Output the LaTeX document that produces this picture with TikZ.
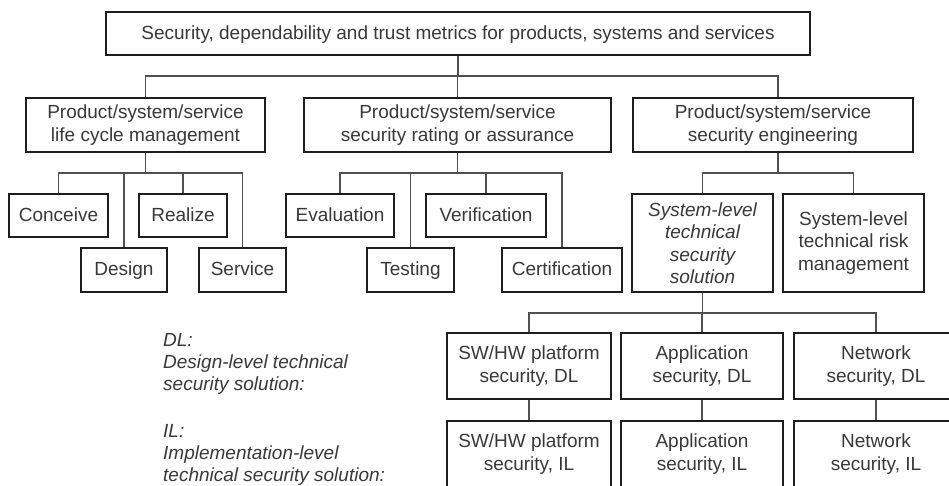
\documentclass[tikz,border=0pt]{standalone}
\usepackage{fontspec}
\setmainfont{Liberation Sans}
\definecolor{boxline}{HTML}{1E1E1E}
\definecolor{linkc}{HTML}{505050}
\definecolor{txt}{HTML}{383838}
\begin{document}
\begin{tikzpicture}[x=1pt,y=-1pt,
  box/.style={draw=boxline, line width=2pt, fill=white, text=txt, align=center,
    inner sep=0pt, font=\fontsize{19}{22.5}\selectfont},
  oneline/.style={text height=15.6pt, text depth=4pt},
  link/.style={draw=linkc, line width=1.3pt},
  legend/.style={text=txt, inner sep=0pt, anchor=base west,
    font=\fontsize{19}{22}\selectfont\itshape}]
\useasboundingbox (0,0) rectangle (949,485);

% root
\node[box, oneline, minimum width=704pt, minimum height=43pt] (top) at (458,33.5)
  {Security, dependability and trust metrics for products, systems and services};

% second level
\node[box, minimum width=239pt, minimum height=54pt] (life) at (145.5,125)
  {Product/system/service\\life cycle management};
\node[box, minimum width=307pt, minimum height=54pt] (rating) at (457.5,125)
  {Product/system/service\\security rating or assurance};
\node[box, minimum width=280pt, minimum height=54pt] (eng) at (773,125)
  {Product/system/service\\security engineering};

% life cycle phases
\node[box, oneline, minimum width=99pt, minimum height=43pt] (conceive) at (58.5,215.5) {Conceive};
\node[box, oneline, minimum width=88pt, minimum height=43pt] (realize) at (183,215.5) {Realize};
\node[box, oneline, minimum width=86pt, minimum height=44pt] (design) at (124,270) {Design};
\node[box, oneline, minimum width=87pt, minimum height=44pt] (service) at (242.5,270) {Service};

% assurance activities
\node[box, oneline, minimum width=108pt, minimum height=43pt] (eval) at (340,215.5) {Evaluation};
\node[box, oneline, minimum width=120pt, minimum height=43pt] (verif) at (486,215.5) {Verification};
\node[box, oneline, minimum width=87pt, minimum height=44pt] (testing) at (410.5,270) {Testing};
\node[box, oneline, minimum width=120pt, minimum height=44pt] (certif) at (562,270) {Certification};

% engineering
\node[box, minimum width=141pt, minimum height=98pt, font=\fontsize{19}{22.5}\selectfont\itshape]
  (syssol) at (702.5,243) {System-level\\technical\\security\\solution};
\node[box, minimum width=141pt, minimum height=98pt] (risk) at (853.5,243)
  {System-level\\technical risk\\management};

% design level
\node[box, minimum width=164pt, minimum height=66pt] (swdl) at (529,366) {SW/HW platform\\security, DL};
\node[box, minimum width=162pt, minimum height=66pt] (appdl) at (702,366) {Application\\security, DL};
\node[box, minimum width=164pt, minimum height=66pt] (netdl) at (876,366) {Network\\security, DL};

% implementation level
\node[box, minimum width=164pt, minimum height=66pt] (swil) at (529,454) {SW/HW platform\\security, IL};
\node[box, minimum width=162pt, minimum height=66pt] (appil) at (702,454) {Application\\security, IL};
\node[box, minimum width=164pt, minimum height=66pt] (netil) at (876,454) {Network\\security, IL};

% legend
\node[legend] (dlhead) at (163,346) {DL:};
\node[legend] (dlone) at (163,368) {Design-level technical};
\node[legend] (dltwo) at (163,390) {security solution:};
\node[legend] (ilhead) at (163,437) {IL:};
\node[legend] (ilone) at (163,459) {Implementation-level};
\node[legend] (iltwo) at (163,481) {technical security solution:};

% bus levels
\coordinate (busa) at (0,76);
\coordinate (busb) at (0,173);
\coordinate (busc) at (0,313);

% root to second level
\draw[link] (top.south) -- (top.south |- busa);
\draw[link] (life.north) -- (life.north |- busa) -- ([xshift=5pt]eng.north |- busa) -- ([xshift=5pt]eng.north);
\draw[link] (rating.north) -- (rating.north |- busa);

% life cycle
\draw[link] (life.south) -- (life.south |- busb);
\draw[link] (conceive.north) -- (conceive.north |- busb) -- (service.north |- busb) -- (service.north);
\draw[link] (design.north) -- (design.north |- busb);
\draw[link] (realize.north) -- (realize.north |- busb);

% assurance
\draw[link] (rating.south) -- (rating.south |- busb);
\draw[link] (eval.north) -- (eval.north |- busb) -- (certif.north |- busb) -- (certif.north);
\draw[link] (testing.north) -- (testing.north |- busb);
\draw[link] (verif.north) -- (verif.north |- busb);

% engineering
\draw[link] ([xshift=5pt]eng.south) -- ([xshift=5pt]eng.south |- busb);
\draw[link] (syssol.north) -- (syssol.north |- busb) -- (risk.north |- busb) -- (risk.north);

% solution layers
\draw[link] (syssol.south) -- (syssol.south |- busc);
\draw[link] (swdl.north) -- (swdl.north |- busc) -- (netdl.north |- busc) -- (netdl.north);
\draw[link] (appdl.north) -- (appdl.north |- busc);
\draw[link] (swdl) -- (swil);
\draw[link] (appdl) -- (appil);
\draw[link] (netdl) -- (netil);
\end{tikzpicture}
\end{document}
